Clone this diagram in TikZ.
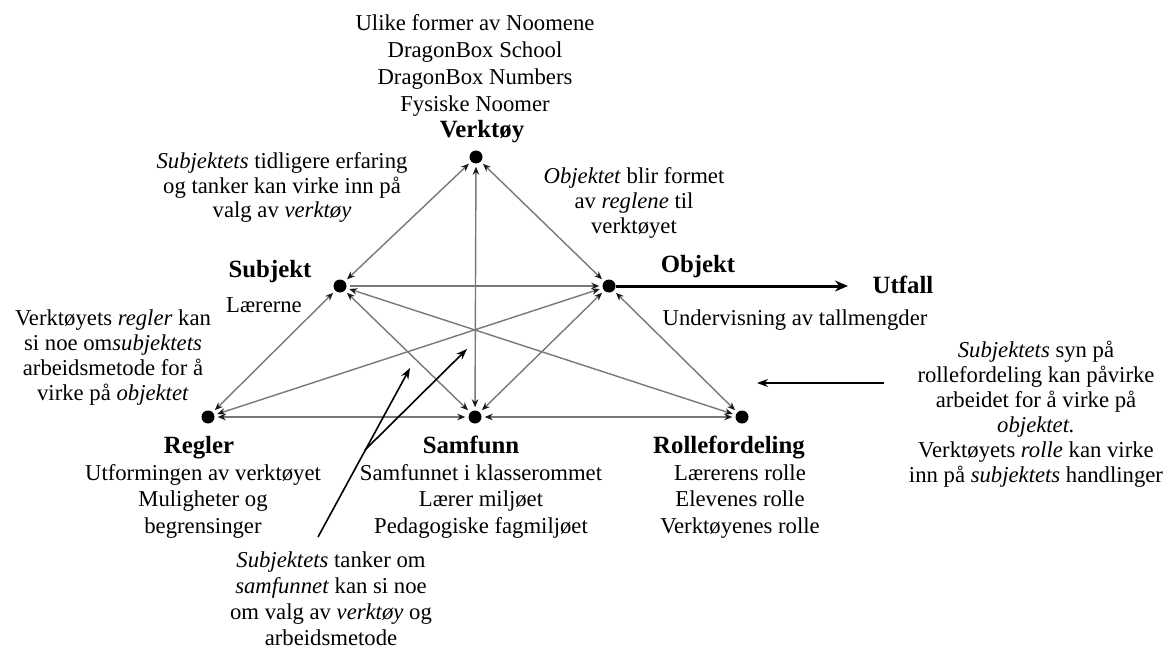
\documentclass[tikz,border=0pt]{standalone}
\usepackage{fontspec}
\setmainfont{Liberation Serif}
\usetikzlibrary{arrows.meta}
\newcommand\lns[1]{\begin{tabular}[t]{@{}c@{}}#1\end{tabular}}
\newcommand\rsz[1]{\fontsize{22.7}{#1}\selectfont}
\definecolor{linkgray}{RGB}{120,120,120}
\begin{document}
\begin{tikzpicture}[x=1pt,y=-1pt,
  gt/.tip={Stealth[length=8pt,width=6.5pt,color=black!90]},
  bt/.tip={Stealth[length=11pt,width=8pt]},
  dot/.style={circle,fill=black,inner sep=0pt,minimum size=13pt},
  link/.style={draw=linkgray,line width=1.4pt,shorten <=3pt,shorten >=3pt},
  note/.style={draw=black,line width=1.6pt,-bt},
  txt/.style={inner sep=0pt,anchor=base,font=\rsz{26}},
  lbl/.style={inner sep=0pt,anchor=base,font=\fontsize{24.8}{28}\selectfont\bfseries}]
\useasboundingbox (0,0) rectangle (1165,650);
% dots
\node[dot] (ver) at (476,157) {};
\node[dot] (sub) at (340,286) {};
\node[dot] (obj) at (609,286) {};
\node[dot] (reg) at (208,417) {};
\node[dot] (sam) at (475,417) {};
\node[dot] (rol) at (742,417) {};
% links
\draw[link,gt-gt] (ver) -- (sub);
\draw[link,gt-gt] (ver) -- (obj);
\draw[link,gt-gt] (ver) -- (sam);
\draw[link,-gt] (sub) -- (obj);
\draw[link,gt-gt] (sub) -- (reg);
\draw[link,gt-gt] (sub) -- (sam);
\draw[link,gt-gt] (sub) -- (rol);
\draw[link,gt-gt] (obj) -- (reg);
\draw[link,gt-gt] (obj) -- (sam);
\draw[link,gt-gt] (obj) -- (rol);
\draw[link,gt-gt] (reg) -- (sam);
\draw[link,gt-gt] (sam) -- (rol);
% texts
\node[txt,font=\rsz{27}] (tools) at (475,31) {\lns{Ulike former av Noomene\\DragonBox School\\DragonBox Numbers\\Fysiske Noomer}};
\node[lbl] (lver) at (482,138) {Verktøy};
\node[txt,font=\rsz{25}] (ntl) at (282,168) {\lns{\textit{Subjektets} tidligere erfaring\\og tanker kan virke inn på\\valg av \textit{verktøy}}};
\node[txt,font=\rsz{25}] (ntr) at (634,183) {\lns{\textit{Objektet} blir formet\\av \textit{reglene} til\\verktøyet}};
\node[lbl] (lsub) at (270,277) {Subjekt};
\node[txt] (lsub2) at (264,312) {Lærerne};
\node[lbl] (lobj) at (698,272) {Objekt};
\node[lbl] (lut) at (903,293) {Utfall};
\node[txt] (lobj2) at (795,325) {Undervisning av tallmengder};
\node[txt,font=\rsz{25}] (nl) at (113,325) {\lns{Verktøyets \textit{regler} kan\\si noe om\textit{subjektets}\\arbeidsmetode for å\\virke på \textit{objektet}}};
\node[lbl] (lreg) at (199,453) {Regler};
\node[txt,font=\rsz{26.5}] (lreg2) at (203,480) {\lns{Utformingen av verktøyet\\Muligheter og\\begrensinger}};
\node[lbl] (lsam) at (471,453) {Samfunn};
\node[txt,font=\rsz{26.5}] (lsam2) at (481,480) {\lns{Samfunnet i klasserommet\\Lærer miljøet\\Pedagogiske fagmiljøet}};
\node[lbl] (lrol) at (729,453) {Rollefordeling};
\node[txt,font=\rsz{26.5}] (lrol2) at (740,480) {\lns{Lærerens rolle\\Elevenes rolle\\Verktøyenes rolle}};
\node[txt,font=\rsz{25}] (nr) at (1036,357) {\lns{\textit{Subjektets} syn på\\rollefordeling kan påvirke\\arbeidet for å virke på\\\textit{objektet.}\\Verktøyets \textit{rolle} kan virke\\inn på \textit{subjektets} handlinger}};
\node[txt] (nb) at (331,567) {\lns{\textit{Subjektets} tanker om\\\textit{samfunnet} kan si noe\\om valg av \textit{verktøy} og\\arbeidsmetode}};
% outcome arrow
\coordinate (uend) at (848,286);
\draw[line width=3pt,-{Stealth[length=13pt,width=11pt]}] (obj) -- (uend);
% annotation arrows
\coordinate (rtail) at (884,383);
\coordinate (rtip) at (757,383);
\draw[note] (rtail) -- (rtip);
\coordinate (b0) at (318,537);
\coordinate (bk) at (365,450);
\coordinate (t1) at (410,368);
\coordinate (t2) at (467,349);
\draw[note] (b0) -- (t1);
\draw[note] (bk) -- (t2);
\end{tikzpicture}
\end{document}
